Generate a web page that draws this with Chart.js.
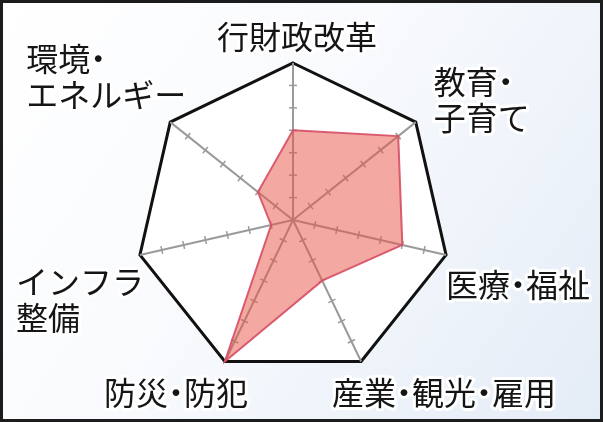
<!DOCTYPE html>
<html>
<head>
<meta charset="utf-8">
<script src="https://cdn.jsdelivr.net/npm/chart.js@4/dist/chart.umd.min.js"></script>
<style>
  html, body { margin: 0; padding: 0; background: #fff; }
  #wrap { width: 603px; height: 422px; }
</style>
</head>
<body>
<div id="wrap"><canvas id="radar" width="603" height="422"></canvas></div>
<script>
// chart data
const categories = [
  ['行財政改革'],
  ['教育・', '子育て'],
  ['医療・福祉'],
  ['産業・観光・雇用'],
  ['防災・防犯'],
  ['インフラ', '整備'],
  ['環境・', 'エネルギー']
];
const values = [4, 6, 5, 3, 7, 1, 2];
const scaleMin = 0;
const scaleMax = 7;
const tickStep = 1;

// where each label sits, relative to the outer vertex of its spoke
const labelLayout = [
  { dx: 4, dy: -26, align: 'center' },
  { dx: 18, dy: -40, align: 'left' },
  { dx: 0, dy: 30, align: 'left' },
  { dx: -29, dy: 31, align: 'left' },
  { dx: -49, dy: 31, align: 'center' },
  { dx: -124, dy: 27, align: 'left' },
  { dx: -144, dy: -63, align: 'left' }
];
const labelSize = 32;
const labelFont = '400 ' + labelSize + 'px "Noto Sans CJK JP", "Noto Sans", sans-serif';
const labelLineHeight = 36;

// background gradient + frame
const framePlugin = {
  id: 'frame',
  beforeDraw(chart) {
    const { ctx, width, height } = chart;
    ctx.save();
    const g = ctx.createLinearGradient(0, 0, width, height);
    g.addColorStop(0, '#ffffff');
    g.addColorStop(0.45, '#f8fafd');
    g.addColorStop(1, '#e4ecf7');
    ctx.fillStyle = g;
    ctx.fillRect(0, 0, width, height);
    ctx.lineWidth = 3;
    ctx.strokeStyle = '#1c1c1c';
    ctx.strokeRect(1.5, 1.5, width - 3, height - 3);
    ctx.restore();
  }
};

// little cross ticks on every spoke
const spokeTicks = {
  id: 'spokeTicks',
  beforeDatasetsDraw(chart) {
    const scale = chart.scales.r;
    const ctx = chart.ctx;
    ctx.save();
    ctx.strokeStyle = '#9a9a9a';
    ctx.lineWidth = 1.5;
    for (let i = 0; i < categories.length; i++) {
      const a = scale.getIndexAngle(i) - Math.PI / 2;
      const nx = -Math.sin(a), ny = Math.cos(a);
      for (let v = scaleMin + tickStep; v < scaleMax; v += tickStep) {
        const p = scale.getPointPosition(i, scale.getDistanceFromCenterForValue(v));
        ctx.beginPath();
        ctx.moveTo(p.x - nx * 4, p.y - ny * 4);
        ctx.lineTo(p.x + nx * 4, p.y + ny * 4);
        ctx.stroke();
      }
    }
    ctx.restore();
  }
};

// the middle dot is set half width, like the printed labels
function charAdvance(ctx, ch) {
  return ch === '・' ? labelSize * 0.5 : ctx.measureText(ch).width;
}

function drawLabelLine(ctx, txt, x, y, align, pass) {
  const chars = Array.from(txt);
  const total = chars.reduce((s, ch) => s + charAdvance(ctx, ch), 0);
  let cx = align === 'center' ? x - total / 2 : x;
  chars.forEach(ch => {
    const w = charAdvance(ctx, ch);
    const px = cx + w / 2;
    if (pass === 'halo') ctx.strokeText(ch, px, y);
    else ctx.fillText(ch, px, y);
    cx += w;
  });
}

// category labels with a white halo
const axisLabels = {
  id: 'axisLabels',
  afterDatasetsDraw(chart) {
    const scale = chart.scales.r;
    const ctx = chart.ctx;
    ctx.save();
    ctx.font = labelFont;
    ctx.textBaseline = 'middle';
    ctx.textAlign = 'center';
    ctx.lineJoin = 'round';
    ctx.strokeStyle = '#ffffff';
    ctx.lineWidth = 6;
    ctx.fillStyle = '#151515';
    ['halo', 'fill'].forEach(pass => {
      categories.forEach((lines, i) => {
        const p = scale.getPointPosition(i, scale.drawingArea);
        const lay = labelLayout[i];
        lines.forEach((txt, k) => {
          drawLabelLine(ctx, txt, p.x + lay.dx, p.y + lay.dy + k * labelLineHeight, lay.align, pass);
        });
      });
    });
    ctx.restore();
  }
};

new Chart(document.getElementById('radar'), {
  type: 'radar',
  data: {
    labels: categories,
    datasets: [{
      data: values,
      backgroundColor: 'rgba(232, 82, 70, 0.5)',
      borderColor: 'rgba(214, 78, 100, 0.9)',
      borderWidth: 2,
      pointRadius: 0,
      pointHoverRadius: 0
    }]
  },
  options: {
    responsive: false,
    animation: false,
    events: [],
    layout: { padding: { top: 63, bottom: 45, left: 136, right: 153 } },
    plugins: { legend: { display: false }, tooltip: { enabled: false } },
    scales: {
      r: {
        min: scaleMin,
        max: scaleMax,
        backgroundColor: '#ffffff',
        ticks: { display: false, stepSize: tickStep },
        pointLabels: { display: false },
        angleLines: { color: '#9a9a9a', lineWidth: 2 },
        grid: {
          color: (c) => (c.tick && c.tick.value === scaleMax ? '#111111' : 'rgba(0,0,0,0)'),
          lineWidth: (c) => (c.tick && c.tick.value === scaleMax ? 3 : 0)
        }
      }
    }
  },
  plugins: [framePlugin, spokeTicks, axisLabels]
});
</script>
</body>
</html>
